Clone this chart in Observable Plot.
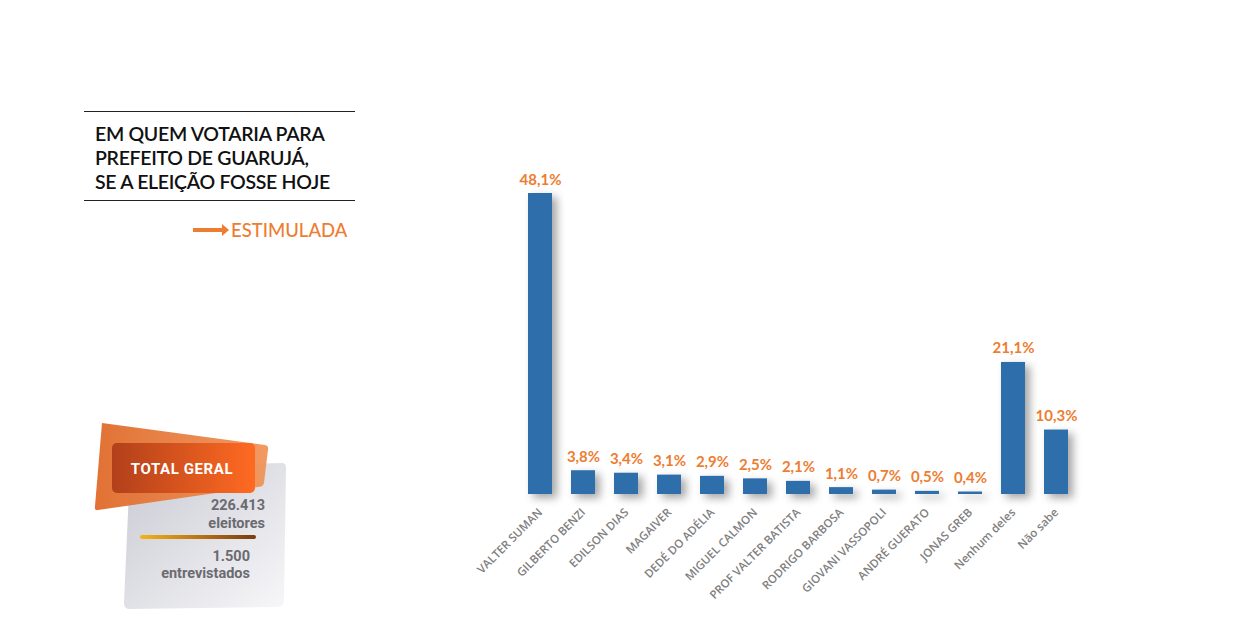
<!DOCTYPE html>
<html><head><meta charset="utf-8">
<script src="https://cdn.jsdelivr.net/npm/d3@7"></script>
<script src="https://cdn.jsdelivr.net/npm/@observablehq/plot@0.6"></script>
<style>
body{margin:0;background:#fff;width:1251px;height:619px;overflow:hidden;position:relative;font-family:Lato,"Open Sans",sans-serif}
#chart{position:absolute;left:0;top:0}
#chart g[aria-label="bar"] rect{filter:drop-shadow(5px 4px 4px rgba(0,0,0,0.35))}
.title{position:absolute;left:84px;top:111px;width:271px;border-top:1.5px solid #222;border-bottom:1.5px solid #222;padding:10px 0 10px 11px;box-sizing:border-box;height:90px;font-size:19.5px;line-height:24px;color:#111;font-weight:600;letter-spacing:-0.3px}
.sub{position:absolute;left:193px;top:219px;color:#ed7d31;font-size:18.5px;display:flex;align-items:center;font-weight:500}
.sub .arr{width:30px;height:4px;background:#ed7d31;position:relative;margin-right:8px}
.sub .arr:after{content:"";position:absolute;right:-6px;top:-4px;border-left:7px solid #ed7d31;border-top:6px solid transparent;border-bottom:6px solid transparent}
#box{position:absolute;left:90px;top:415px}
</style></head><body>
<div id="chart"></div>
<div class="title">EM QUEM VOTARIA PARA<br>PREFEITO DE GUARUJÁ,<br>SE A ELEIÇÃO FOSSE HOJE</div>
<div class="sub"><span class="arr"></span>ESTIMULADA</div>
<svg id="box" width="210" height="200" viewBox="0 0 210 200">
<defs>
<linearGradient id="gg" x1="0" y1="0" x2="1" y2="1"><stop offset="0" stop-color="#c9cad3"/><stop offset="1" stop-color="#f7f7f9"/></linearGradient>
<linearGradient id="og" x1="0" y1="0" x2="1" y2="0"><stop offset="0" stop-color="#e06a2a"/><stop offset="1" stop-color="#f0955a"/></linearGradient>
<linearGradient id="ig" x1="0" y1="0" x2="1" y2="0"><stop offset="0" stop-color="#b2401a"/><stop offset="1" stop-color="#ff6a22"/></linearGradient>
<linearGradient id="lg" x1="0" y1="0" x2="1" y2="0"><stop offset="0" stop-color="#f5b21a"/><stop offset="1" stop-color="#7a3a10"/></linearGradient>
</defs>
<path d="M40 52 L192 48 Q196 48 196 53 L194 185 Q194 192 188 192 L40 194 Q34 194 34 188 Z" fill="url(#gg)"/>
<path d="M12 8 L175 30 Q179 31 178 35 L174 68 Q173 72 168 72 L8 95 Q4 96 5 91 Z" fill="url(#og)" opacity="0.95"/>
<rect x="22" y="28" width="143" height="50" rx="5" fill="url(#ig)"/>
<text x="92" y="59" text-anchor="middle" fill="#fff" font-family="Roboto,sans-serif" font-weight="700" font-size="15" letter-spacing="0.6">TOTAL GERAL</text>
<text x="175" y="95" text-anchor="end" fill="#6b6b70" font-family="Roboto,sans-serif" font-weight="700" font-size="14.5">226.413</text>
<text x="175" y="113" text-anchor="end" fill="#6b6b70" font-family="Roboto,sans-serif" font-weight="700" font-size="14.5">eleitores</text>
<rect x="50" y="120" width="116" height="4" rx="2" fill="url(#lg)"/>
<text x="160" y="146" text-anchor="end" fill="#6b6b70" font-family="Roboto,sans-serif" font-weight="700" font-size="14.5">1.500</text>
<text x="160" y="163" text-anchor="end" fill="#6b6b70" font-family="Roboto,sans-serif" font-weight="700" font-size="14.5">entrevistados</text>
</svg>
<script>
const candidates = ["VALTER SUMAN","GILBERTO BENZI","EDILSON DIAS","MAGAIVER","DEDÉ DO ADÉLIA","MIGUEL CALMON","PROF VALTER BATISTA","RODRIGO BARBOSA","GIOVANI VASSOPOLI","ANDRÉ GUERATO","JONAS GREB","Nenhum deles","Não sabe"];
const values = [48.1,3.8,3.4,3.1,2.9,2.5,2.1,1.1,0.7,0.5,0.4,21.1,10.3];
const labels = ["48,1%","3,8%","3,4%","3,1%","2,9%","2,5%","2,1%","1,1%","0,7%","0,5%","0,4%","21,1%","10,3%"];
const data = candidates.map((c,i)=>({name:c,value:values[i],label:labels[i]}));
const chart = Plot.plot({
  width:1251, height:619,
  marginLeft:509, marginRight:164, marginTop:193, marginBottom:125,
  style:{fontFamily:"Lato, 'Open Sans', sans-serif", background:"transparent"},
  x:{domain:candidates, padding:0.44, label:null},
  y:{domain:[0,48.1], axis:null},
  marks:[
    Plot.barY(data,{x:"name", y:"value", fill:"#2e6fab"}),
    Plot.text(data,{x:"name", y:"value", text:"label", dy:-9, lineAnchor:"bottom", fill:"#ed7d31", fontWeight:"bold", fontSize:15}),
    Plot.axisX({tickRotate:-45, tickSize:0, tickPadding:16, fill:"#7f7f7f", fontSize:11.5, fontWeight:600, fontFamily:"'Open Sans', sans-serif", label:null})
  ]
});
document.getElementById("chart").appendChild(chart);
</script>
</body></html>
